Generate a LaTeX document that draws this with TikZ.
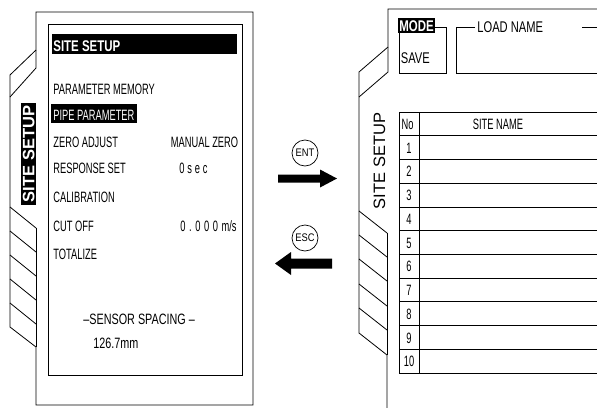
\documentclass[tikz,border=0pt]{standalone}
\usepackage{fontspec}
\setmainfont{Liberation Sans}
\newfontfamily\nar[FakeStretch=0.62]{Liberation Sans}
\newfontfamily\narw[FakeStretch=0.72]{Liberation Sans}
\newfontfamily\narb[FakeStretch=0.74]{Liberation Sans}
\newfontfamily\keyf[FakeStretch=0.85]{Liberation Sans}
\newcommand\fsz[1]{\fontsize{#1}{#1}\selectfont}
\newcommand\gp[1]{\hspace{#1pt}}
\begin{document}
\begin{tikzpicture}[x=1pt,y=-1pt,line width=0.8pt,
  lbl/.style={inner sep=0pt,anchor=base west,font=\nar\fsz{15}},
  lblr/.style={inner sep=0pt,anchor=base east,font=\nar\fsz{15}},
  lblw/.style={inner sep=0pt,anchor=base west,font=\narw\fsz{15}},
  inv/.style={inner sep=0pt,anchor=base west,text=white,font=\narb\bfseries\fsz{15.5}},
  num/.style={inner sep=0pt,anchor=base,font=\nar\fsz{15}},
  key/.style={circle,draw,line width=0.7pt,minimum size=26pt,inner sep=0pt,font=\keyf\fsz{11}}]
\useasboundingbox (0,0) rectangle (597,407);
\clip (0,0) rectangle (597,407);
% ---------- left panel ----------
\draw (253,405) -- (253,12) -- (36,12) -- (36,50) -- (10,75) -- (10,327) -- (36,347) -- (36,405) -- cycle;
\draw (36,50) -- (36,68) -- (10,97);
\draw (36,228) -- (36,347);
\foreach \y in {207,231,255,279,303} \draw (10,\y) -- (36,\y+21);
\fill (21,103) rectangle (35.5,205);
\node[rotate=90,inner sep=0pt,text=white,font=\bfseries\fsz{16.5}] (tabl) at (28.8,154) {SITE SETUP};
\draw (48,24) rectangle (242,375);
\fill (52,34) rectangle (237,54);
\node[inv] (head) at (53,51.5) {SITE SETUP};
\node[lbl] (pm) at (53,94.5) {PARAMETER MEMORY};
\fill (51,104) rectangle (137,123);
\node[lbl,text=white] (pp) at (53,120.5) {PIPE PARAMETER};
\node[lbl] (za) at (53,147) {ZERO ADJUST};
\node[lblr] (mz) at (238.5,147) {MANUAL ZERO};
\node[lbl] (rs) at (53,173) {RESPONSE SET};
\node[lbl] (sec) at (179,173) {0\gp{2.8}s\gp{2.8}e\gp{2.8}c};
\node[lbl] (cal) at (53,202) {CALIBRATION};
\node[lbl] (co) at (53,231.5) {CUT OFF};
\node[lbl] (cov) at (180,231.5) {0\gp{3.6}.\gp{3.6}0\gp{3.6}0\gp{3.6}0\gp{3.6}m/s};
\node[lbl] (tot) at (53,259) {TOTALIZE};
\node[lblw] (ss) at (83,324) {–SENSOR SPACING –};
\node[lblw] (ssv) at (93,348.5) {126.7mm};
% ---------- keys and arrows ----------
\node[key] (ent) at (305,153) {ENT};
\node[key] (esc) at (305,238) {ESC};
\fill (278,174.5) -- (320,174.5) -- (320,169.5) -- (337,178.5) -- (320,187.5) -- (320,182.5) -- (278,182.5) -- cycle;
\fill (332,258.5) -- (291,258.5) -- (291,252) -- (275,263.5) -- (291,275) -- (291,268.5) -- (332,268.5) -- cycle;
% ---------- right panel ----------
\draw (600,9) -- (388,9) -- (388,47) -- (359,72) -- (359,333) -- (387,355) -- (387,410);
\draw (388,47) -- (388,72) -- (359,97);
\draw (387,233) -- (387,355);
\foreach \y in {211,235,259,284,308} \draw (359,\y) -- (387,\y+22);
\node[rotate=90,inner sep=0pt,font=\fsz{16.5}] (tabr) at (379.5,161) {SITE SETUP};
% MODE box
\draw (435,27) -- (446,27) -- (446,73) -- (399,73) -- (399,33);
\fill (398,17.5) rectangle (435,33);
\node[inv] (mode) at (399,31.5) {MODE};
\node[lblw,font=\narw\fsz{15.5}] (save) at (400.5,63.5) {SAVE};
% LOAD NAME box
\draw (475,27) -- (456,27) -- (456,73) -- (600,73);
\draw (582,27) -- (600,27);
\node[lblw,font=\narw\fsz{15.5}] (ln) at (477,32) {LOAD NAME};
% table
\draw (399,112) -- (399,373);
\draw (419,112) -- (419,373);
\foreach \k in {0,...,11} \draw (399,112+23.73*\k) -- (600,112+23.73*\k);
\node[num] (no) at (407.5,129) {No};
\node[num] (sn) at (498,129) {SITE NAME};
\foreach \k in {1,...,10} \node[num] (r\k) at (409,112+23.73*\k+17.5) {\k};
\end{tikzpicture}
\end{document}
